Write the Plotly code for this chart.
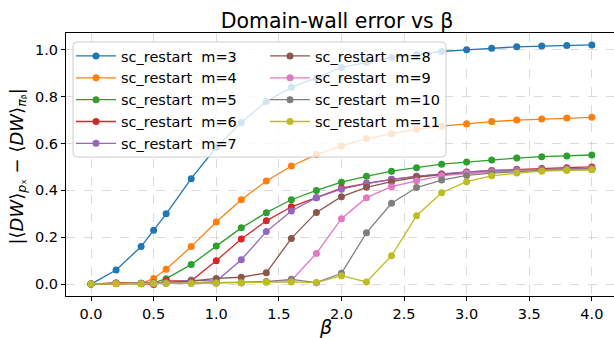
import plotly.graph_objects as go

# inverse temperatures sampled
beta = [0.0, 0.2, 0.4, 0.5, 0.6, 0.8, 1.0, 1.2, 1.4, 1.6, 1.8, 2.0,
        2.2, 2.4, 2.6, 2.8, 3.0, 3.2, 3.4, 3.6, 3.8, 4.0]

# domain-wall error for each restart depth m
err_m3 = [0.0, 0.06, 0.16, 0.23, 0.30, 0.45, 0.584, 0.69, 0.78, 0.84, 0.88, 0.925,
          0.947, 0.967, 0.98, 0.993, 1.0, 1.007, 1.013, 1.016, 1.019, 1.021]
err_m4 = [0.0, 0.005, 0.002, 0.024, 0.063, 0.16, 0.265, 0.36, 0.44, 0.504, 0.553, 0.59,
          0.621, 0.642, 0.661, 0.674, 0.684, 0.694, 0.70, 0.705, 0.709, 0.712]
err_m5 = [0.0, 0.003, 0.001, 0.005, 0.023, 0.083, 0.162, 0.24, 0.305, 0.36, 0.40, 0.435,
          0.46, 0.482, 0.497, 0.512, 0.521, 0.53, 0.538, 0.544, 0.547, 0.551]
err_m6 = [0.0, 0.005, 0.003, -0.002, 0.014, 0.014, 0.10, 0.192, 0.27, 0.33, 0.369, 0.41,
          0.43, 0.447, 0.46, 0.47, 0.478, 0.485, 0.49, 0.493, 0.497, 0.50]
err_m7 = [0.0, 0.002, 0.002, 0.004, 0.006, 0.017, 0.012, 0.104, 0.224, 0.312, 0.369, 0.405,
          0.429, 0.446, 0.46, 0.47, 0.479, 0.484, 0.488, 0.49, 0.492, 0.494]
err_m8 = [0.0, 0.002, 0.003, 0.004, 0.006, 0.012, 0.024, 0.029, 0.048, 0.195, 0.306, 0.373,
          0.413, 0.437, 0.456, 0.467, 0.474, 0.48, 0.485, 0.488, 0.49, 0.492]
err_m9 = [0.0, 0.002, 0.002, 0.003, 0.005, 0.005, 0.006, 0.006, 0.01, 0.015, 0.131, 0.279,
          0.369, 0.416, 0.441, 0.462, 0.473, 0.479, 0.484, 0.487, 0.489, 0.491]
err_m10 = [0.0, 0.002, 0.002, 0.003, 0.004, 0.004, 0.005, 0.006, 0.01, 0.02, 0.006, 0.046,
           0.219, 0.345, 0.412, 0.444, 0.464, 0.474, 0.48, 0.485, 0.487, 0.489]
err_m11 = [0.0, 0.001, 0.001, 0.002, 0.002, 0.002, 0.003, 0.004, 0.008, 0.009, 0.006, 0.036,
           0.009, 0.121, 0.292, 0.39, 0.437, 0.462, 0.474, 0.482, 0.486, 0.488]

depths = [3, 4, 5, 6, 7, 8, 9, 10, 11]
series = [err_m3, err_m4, err_m5, err_m6, err_m7, err_m8, err_m9, err_m10, err_m11]
colors = ["#1f77b4", "#ff7f0e", "#2ca02c", "#d62728", "#9467bd",
          "#8c564b", "#e377c2", "#7f7f7f", "#bcbd22"]

FONT = "DejaVu Sans"
W, H = 614, 338
ML, MT, MB = 66, 33, 42
PW, PH = W - ML, H - MT - MB


def px(xp):
    return (xp - ML) / PW


def py(yp):
    return (H - MB - yp) / PH


fig = go.Figure()
for m, y, c in zip(depths, series, colors):
    fig.add_trace(go.Scatter(
        x=beta, y=y, mode="lines+markers",
        name=f"sc_restart\u00a0 m={m}",
        line=dict(color=c, width=1.3),
        marker=dict(color=c, size=7),
        # two legend columns: m=3..7 left, m=8..11 right
        legend="legend" if m <= 7 else "legend2",
    ))

# translucent rounded frame behind both legend columns
x0, x1, y0, y1, r = 73, 446, 42, 157, 4
legend_box = (
    f"M{px(x0 + r)},{py(y0)} L{px(x1 - r)},{py(y0)} "
    f"Q{px(x1)},{py(y0)} {px(x1)},{py(y0 + r)} L{px(x1)},{py(y1 - r)} "
    f"Q{px(x1)},{py(y1)} {px(x1 - r)},{py(y1)} L{px(x0 + r)},{py(y1)} "
    f"Q{px(x0)},{py(y1)} {px(x0)},{py(y1 - r)} L{px(x0)},{py(y0 + r)} "
    f"Q{px(x0)},{py(y0)} {px(x0 + r)},{py(y0)} Z"
)
fig.add_shape(type="path", path=legend_box, xref="paper", yref="paper",
              fillcolor="rgba(255,255,255,0.8)", line=dict(color="#cccccc", width=1),
              layer="above")

grid = dict(showgrid=True, gridcolor="rgba(176,176,176,0.45)", griddash="dash",
            gridwidth=0.8, zeroline=False)

legend_style = dict(xanchor="left", yanchor="top", itemwidth=40,
                    bgcolor="rgba(0,0,0,0)", borderwidth=0,
                    font=dict(size=14.5, family=FONT), traceorder="normal")

fig.update_layout(
    width=W, height=H,
    margin=dict(l=ML, r=0, t=MT, b=MB),
    paper_bgcolor="white", plot_bgcolor="white",
    font=dict(family=FONT, size=14.5, color="black"),
    title=dict(text="Domain-wall error vs β", x=px(337), xref="paper", xanchor="center",
               y=1 - 21 / H, yref="container", yanchor="middle",
               font=dict(size=20.5, family=FONT)),
    xaxis=dict(range=[-0.2, 4.177], tickvals=[0, 0.5, 1, 1.5, 2, 2.5, 3, 3.5, 4],
               tickformat=".1f", ticks="outside", ticklen=4, tickcolor="black",
               showline=True, linecolor="black", linewidth=1.2, mirror=True,
               automargin=False, **grid),
    yaxis=dict(range=[-0.051, 1.072], tickvals=[0, 0.2, 0.4, 0.6, 0.8, 1.0],
               tickformat=".1f", ticks="outside", ticklen=4, tickcolor="black",
               showline=True, linecolor="black", linewidth=1.2,
               automargin=False, **grid),
    legend=dict(x=px(71), y=py(40), **legend_style),
    legend2=dict(x=px(265), y=py(40), **legend_style),
    showlegend=True,
    annotations=[
        dict(text="<i>β</i>", x=px(325), y=py(327), xref="paper", yref="paper",
             xanchor="center", yanchor="middle", showarrow=False,
             font=dict(size=19, family=FONT)),
        dict(text="|⟨<i>DW</i>⟩<sub><i>p</i>ₓ</sub> − ⟨<i>DW</i>⟩<sub><i>π</i>ᵦ</sub>|",
             x=px(17.5), y=py(167), xref="paper", yref="paper", textangle=-90,
             xanchor="center", yanchor="middle", showarrow=False,
             font=dict(size=18, family=FONT)),
    ],
)

fig.write_html("out.html")
